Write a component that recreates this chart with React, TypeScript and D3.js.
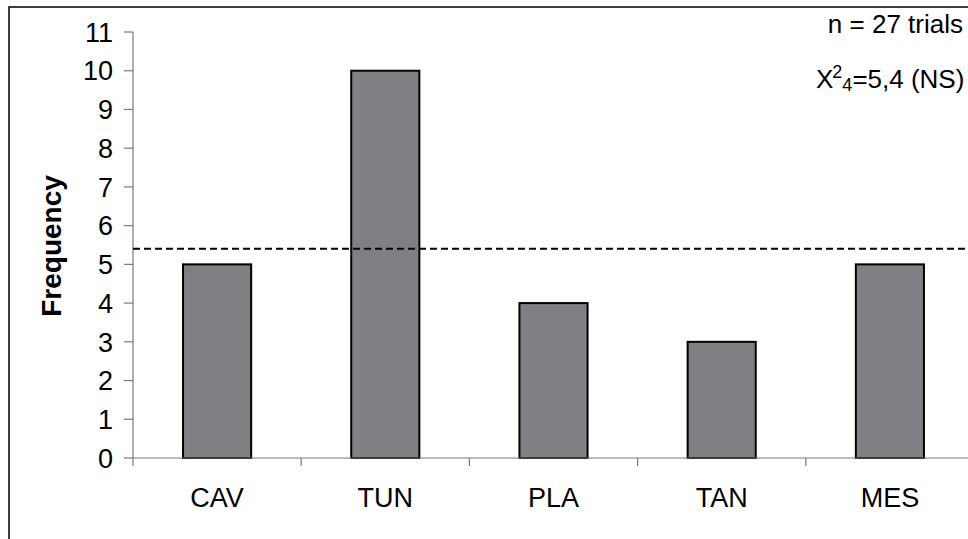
import React from "react";
import * as d3 from "d3";

const categories = ["CAV", "TUN", "PLA", "TAN", "MES"];
const frequencies = [5, 10, 4, 3, 5];
const expected = 5.4;
const yTicks = [0, 1, 2, 3, 4, 5, 6, 7, 8, 9, 10, 11];
const noteTop = "n = 27 trials";

const W = 968;
const H = 539;
const FONT = "'Liberation Sans', Arial, sans-serif";

export default function App() {
  const x0 = 133;
  const step = 168.2;
  const x = d3
    .scaleBand<string>()
    .domain(categories)
    .range([x0, x0 + step * categories.length])
    .paddingInner(0.595)
    .paddingOuter(0.2975);
  const y = d3.scaleLinear().domain([0, 11]).range([458, 32]);
  const axisEnd = x0 + step * categories.length;
  const axisColor = "#7a7a7a";

  return (
    <svg
      width={W}
      height={H}
      style={{ position: "absolute", left: 0, top: 0, display: "block", background: "#fff" }}
    >
      <rect x={9} y={7} width={980} height={560} fill="#fff" stroke="#000" strokeWidth={1.5} />

      {/* bars */}
      {categories.map((c, i) => (
        <rect
          key={c}
          x={x(c)}
          y={y(frequencies[i])}
          width={x.bandwidth()}
          height={y(0) - y(frequencies[i])}
          fill="#7f8084"
          stroke="#000"
          strokeWidth={2}
        />
      ))}

      {/* y axis */}
      <line x1={x0} x2={x0} y1={y(11)} y2={y(0)} stroke={axisColor} strokeWidth={1.2} />
      {yTicks.map((t) => (
        <g key={t}>
          <line x1={x0 - 9} x2={x0} y1={y(t)} y2={y(t)} stroke={axisColor} strokeWidth={1.2} />
          <text
            x={113}
            y={y(t)}
            dy="0.36em"
            textAnchor="end"
            fontFamily={FONT}
            fontSize={27}
            fill="#000"
          >
            {t}
          </text>
        </g>
      ))}

      {/* x axis */}
      <line x1={x0} x2={axisEnd} y1={y(0)} y2={y(0)} stroke={axisColor} strokeWidth={1.2} />
      {d3.range(categories.length + 1).map((i) => (
        <line
          key={i}
          x1={x0 + i * step}
          x2={x0 + i * step}
          y1={y(0)}
          y2={y(0) + 8}
          stroke={axisColor}
          strokeWidth={1.2}
        />
      ))}
      {categories.map((c) => (
        <text
          key={c}
          x={(x(c) ?? 0) + x.bandwidth() / 2}
          y={507}
          textAnchor="middle"
          fontFamily={FONT}
          fontSize={27}
          fill="#000"
        >
          {c}
        </text>
      ))}

      {/* expected line */}
      <line
        x1={x0}
        x2={W}
        y1={y(expected)}
        y2={y(expected)}
        stroke="#000"
        strokeWidth={2}
        strokeDasharray="7,4"
      />

      {/* y label */}
      <text
        transform={`translate(61,246) rotate(-90)`}
        textAnchor="middle"
        fontFamily={FONT}
        fontSize={28}
        fontWeight="bold"
        fill="#000"
      >
        Frequency
      </text>

      {/* annotations */}
      <text x={963} y={33} textAnchor="end" fontFamily={FONT} fontSize={26} fill="#000">
        {noteTop}
      </text>
      <text x={816} y={88} textAnchor="start" fontFamily={FONT} fontSize={26} fill="#000">
        <tspan>X</tspan>
        <tspan fontSize={18} dx={-1} dy={-10}>2</tspan>
        <tspan fontSize={18} dx={0} dy={13}>4</tspan>
        <tspan dy={-3}>=5,4 (NS)</tspan>
      </text>
    </svg>
  );
}
